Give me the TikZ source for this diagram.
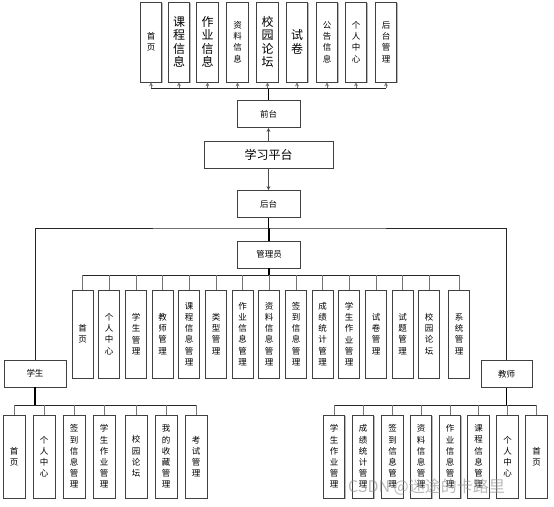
\documentclass[tikz,border=0pt]{standalone}
\usepackage{fontspec}
\setmainfont{Noto Sans CJK SC}
\usetikzlibrary{arrows.meta,shadows}
\begin{document}
\begin{tikzpicture}[x=1pt,y=-1pt]
\useasboundingbox (0,0) rectangle (554,506);
\tikzset{
 sh/.style={drop shadow={shadow xshift=0.9pt,shadow yshift=-0.9pt,opacity=0.45,fill=black!60}},
 box/.style={draw=black!75, fill=white, line width=0.7pt, inner sep=0pt, align=center, sh},
 sm/.style={font=\fontsize{8.5}{11.2}\selectfont},
 big/.style={font=\fontsize{12}{13.5}\selectfont},
 topbox/.style={box, minimum width=21.5pt, minimum height=80pt},
 admbox/.style={box, sm, minimum width=21pt, minimum height=88pt},
 leaf/.style={box, sm, minimum width=22pt, minimum height=83pt},
 hbox/.style={box, sm, minimum width=63pt, minimum height=27pt},
 trunk/.style={draw=black, line width=1.3pt},
 mid/.style={draw=black!70, line width=1pt},
 bus/.style={draw=black!85, line width=0.8pt},
 dropline/.style={draw=black!55, line width=0.8pt},
 tip/.style={-{Stealth[length=4pt,width=4pt]}},
}
% top row
\node[topbox,sm]  (t1) at (151,42)   {首\\页};
\node[topbox,big] (t2) at (179,42)   {课\\程\\信\\息};
\node[topbox,big] (t3) at (207.5,42) {作\\业\\信\\息};
\node[topbox,sm]  (t4) at (237.5,42) {资\\料\\信\\息};
\node[topbox,big] (t5) at (267.5,42) {校\\园\\论\\坛};
\node[topbox,big] (t6) at (297,42)   {试\\卷};
\node[topbox,sm]  (t7) at (327,42)   {公\\告\\信\\息};
\node[topbox,sm]  (t8) at (356,42)   {个\\人\\中\\心};
\node[topbox,sm]  (t9) at (386,42)   {后\\台\\管\\理};
% middle
\node[hbox] (qt) at (268.5,114) {前台};
\node[box, minimum width=129pt, minimum height=27pt, font=\fontsize{12}{14}\selectfont] (pt) at (268.5,154.5) {学习平台};
\node[hbox] (ht) at (268.5,204) {后台};
\node[hbox] (gly) at (269,254.5) {管理员};
\node[hbox, minimum width=62pt] (xs) at (35,373.5) {学生};
\node[hbox, minimum width=51pt] (js) at (506.5,374) {教师};
% admin children
\node[admbox] (a1)  at (82.5,334)  {首\\页};
\node[admbox] (a2)  at (109,334)   {个\\人\\中\\心};
\node[admbox] (a3)  at (136,334)   {学\\生\\管\\理};
\node[admbox] (a4)  at (162.5,334) {教\\师\\管\\理};
\node[admbox] (a5)  at (189,334)   {课\\程\\信\\息\\管\\理};
\node[admbox] (a6)  at (216,334)   {类\\型\\管\\理};
\node[admbox] (a7)  at (242.5,334) {作\\业\\信\\息\\管\\理};
\node[admbox] (a8)  at (269,334)   {资\\料\\信\\息\\管\\理};
\node[admbox] (a9)  at (296,334)   {签\\到\\信\\息\\管\\理};
\node[admbox] (a10) at (322.5,334) {成\\绩\\统\\计\\管\\理};
\node[admbox] (a11) at (349,334)   {学\\生\\作\\业\\管\\理};
\node[admbox] (a12) at (376,334)   {试\\卷\\管\\理};
\node[admbox] (a13) at (402.5,334) {试\\题\\管\\理};
\node[admbox] (a14) at (429,334)   {校\\园\\论\\坛};
\node[admbox] (a15) at (459,334)   {系\\统\\管\\理};
% student children
\node[leaf] (s1) at (14,456.5)  {首\\页};
\node[leaf] (s2) at (44,456.5)  {个\\人\\中\\心};
\node[leaf] (s3) at (74,456.5)  {签\\到\\信\\息\\管\\理};
\node[leaf] (s4) at (104,456.5) {学\\生\\作\\业\\管\\理};
\node[leaf] (s5) at (136,456.5) {校\\园\\论\\坛};
\node[leaf] (s6) at (166,456.5) {我\\的\\收\\藏\\管\\理};
\node[leaf] (s7) at (196,456.5) {考\\试\\管\\理};
% teacher children
\node[leaf, minimum width=21.5pt] (e1) at (334,456.5)   {学\\生\\作\\业\\管\\理};
\node[leaf, minimum width=21.5pt] (e2) at (363,456.5)   {成\\绩\\统\\计\\管\\理};
\node[leaf, minimum width=21.5pt] (e3) at (392.5,456.5) {签\\到\\信\\息\\管\\理};
\node[leaf, minimum width=21.5pt] (e4) at (421,456.5)   {资\\料\\信\\息\\管\\理};
\node[leaf, minimum width=21.5pt] (e5) at (450,456.5)   {作\\业\\信\\息\\管\\理};
\node[leaf, minimum width=21.5pt] (e6) at (478.5,456.5) {课\\程\\信\\息\\管\\理};
\node[leaf, minimum width=21.5pt] (e7) at (507.5,456.5) {个\\人\\中\\心};
\node[leaf, minimum width=21.5pt] (e8) at (536.5,456.5) {首\\页};
% connectors: top
\coordinate (topbus) at (268,88);
\draw[trunk] (qt.north) -- (qt.north |- topbus);
\draw[bus] (t1.south |- topbus) -- (t9.south |- topbus);
\foreach \i in {1,...,9} \draw[dropline,tip] (t\i.south |- topbus) -- (t\i.south);
\draw[mid,tip] (pt.north) -- (qt.south);
\draw[mid,tip] (pt.south) -- (ht.north);
% main bus
\coordinate (mbus) at (268,228);
\draw[trunk] (ht.south) -- (ht.south |- mbus);
\draw[trunk] (gly.north) -- (gly.north |- mbus);
\draw[bus] (xs.north) |- (mbus) -| (js.north);
% admin bus
\coordinate (abus) at (269,275);
\draw[trunk] (gly.south) -- (gly.south |- abus);
\draw[bus] (a1.north |- abus) -- (a15.north |- abus);
\foreach \i in {1,...,15} \draw[dropline] (a\i.north |- abus) -- (a\i.north);
% student bus
\coordinate (sbus) at (35,405);
\draw[trunk] (xs.south) -- (xs.south |- sbus);
\draw[bus] (s1.north |- sbus) -- (s7.north |- sbus);
\foreach \i in {1,...,7} \draw[dropline] (s\i.north |- sbus) -- (s\i.north);
% teacher bus
\coordinate (ebus) at (506.5,405);
\draw[trunk] (js.south) -- (js.south |- ebus);
\draw[bus] (e1.north |- ebus) -- (e8.north |- ebus);
\foreach \i in {1,...,8} \draw[dropline] (e\i.north |- ebus) -- (e\i.north);
% watermark
\node[text=black!45, opacity=0.6, font=\fontsize{16}{16}\selectfont, anchor=west, inner sep=0pt] (wm) at (348,487) {CSDN @迷途的卡路里};
\end{tikzpicture}
\end{document}
